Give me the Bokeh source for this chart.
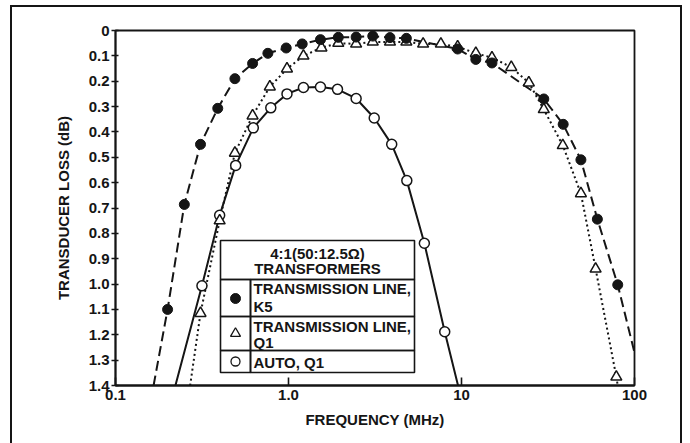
from bokeh.plotting import figure
from bokeh.models import (Range1d, FixedTicker, CustomJSTickFormatter, BoxAnnotation, Label)
from bokeh.embed import file_html
from bokeh.resources import INLINE

# ---------------- data ----------------
# Transmission line, K5 (filled circles)
k5_freq = [0.2, 0.25, 0.31, 0.39, 0.49, 0.62, 0.76, 0.97, 1.2, 1.53, 1.94, 2.46,
           3.07, 3.86, 4.8, 9.5, 12.1, 15.0, 29.9, 38.7, 49.0, 61.0, 80.0]
k5_loss = [1.10, 0.686, 0.449, 0.307, 0.19, 0.13, 0.09, 0.069, 0.053, 0.036, 0.027, 0.026,
           0.022, 0.028, 0.031, 0.073, 0.114, 0.128, 0.27, 0.37, 0.51, 0.744, 1.003]
# where the dashed curve leaves the frame
k5_curve_start = (0.166, 1.4)
k5_curve_end = (100.0, 1.27)

# Transmission line, Q1 (open triangles)
q1_freq = [0.31, 0.40, 0.49, 0.62, 0.78, 0.98, 1.22, 1.55, 1.94, 2.46, 3.07, 3.86, 4.8,
           6.0, 7.6, 9.5, 12.1, 15.0, 19.4, 24.5, 29.9, 38.5, 49.0, 59.6, 78.5]
q1_loss = [1.115, 0.75, 0.483, 0.336, 0.222, 0.151, 0.10, 0.068, 0.05, 0.053, 0.045, 0.045, 0.045,
           0.053, 0.053, 0.064, 0.09, 0.107, 0.145, 0.206, 0.311, 0.453, 0.643, 0.94, 1.366]
q1_curve_start = (0.27, 1.4)
q1_curve_end = (80.0, 1.4)

# Auto, Q1 (open circles)
auto_freq = [0.316, 0.40, 0.495, 0.626, 0.79, 0.98, 1.22, 1.53, 1.92, 2.46, 3.13, 3.95,
             4.83, 6.1, 8.0]
auto_loss = [1.007, 0.729, 0.532, 0.384, 0.305, 0.25, 0.225, 0.223, 0.232, 0.268, 0.345, 0.449,
             0.592, 0.839, 1.188]
auto_curve_start = (0.222, 1.4)
auto_curve_end = (9.55, 1.4)

x_ticks = [0.1, 1.0, 10.0, 100.0]
x_tick_labels = ["0.1", "1.0", "10", "100"]
y_ticks = [0.0, 0.1, 0.2, 0.3, 0.4, 0.5, 0.6, 0.7, 0.8, 0.9, 1.0, 1.1, 1.2, 1.3, 1.4]
y_tick_labels = ["0", "0.1", "0.2", "0.3", "0.4", "0.5", "0.6", "0.7", "0.8", "0.9",
                 "1.0", "1.1", "1.2", "1.3", "1.4"]

legend_title = ["4:1(50:12.5Ω)", "TRANSFORMERS"]
legend_rows = [["TRANSMISSION LINE,", "K5"], ["TRANSMISSION LINE,", "Q1"], ["AUTO, Q1"]]

# ---------------- figure ----------------
FONT = "Liberation Sans"
W, H = 690, 443
FRAME_W, FRAME_H = 519, 355
X0, X1 = 0.1, 100.0
Y0, Y1 = 0.0, 1.4
INK = "#151515"

p = figure(width=W, height=H, x_axis_type="log",
           x_range=Range1d(X0, X1), y_range=Range1d(Y1, Y0),
           output_backend="svg", toolbar_location=None,
           min_border_left=115, min_border_right=W - 115 - FRAME_W,
           min_border_top=30, min_border_bottom=H - 30 - FRAME_H)
p.background_fill_color = "white"
p.border_fill_color = None   # transparent, so the page frame below shows through

# outer frame of the page figure: left, top and right rules (bottom is off-page)
rule = "linear-gradient(#151515, #151515)"
p.styles = {
    "background-color": "white",
    "background-image": ", ".join([rule, rule, rule]),
    "background-position": "10px 5px, 10px 5px, 680px 5px",
    "background-size": "2px 100%, 672px 2px, 2px 100%",
    "background-repeat": "no-repeat",
}

p.outline_line_color = INK
p.outline_line_width = 1.8
p.xgrid.visible = False
p.ygrid.visible = False

for ax in (p.xaxis[0], p.yaxis[0]):
    ax.axis_line_color = INK
    ax.axis_line_width = 1.8
    ax.major_tick_line_color = INK
    ax.major_tick_line_width = 1.6
    ax.minor_tick_line_color = None
    ax.major_label_text_font = FONT
    ax.major_label_text_font_size = "15px"
    ax.major_label_text_font_style = "bold"
    ax.major_label_text_color = INK
    ax.axis_label_text_font = FONT
    ax.axis_label_text_font_size = "15px"
    ax.axis_label_text_font_style = "bold"
    ax.axis_label_text_color = INK

p.xaxis.ticker = FixedTicker(ticks=x_ticks, minor_ticks=[])
p.xaxis.formatter = CustomJSTickFormatter(
    args=dict(tv=x_ticks, labels=x_tick_labels),
    code="const i = tv.findIndex(t => Math.abs(Math.log10(t) - Math.log10(tick)) < 1e-6); return i >= 0 ? labels[i] : '';")
p.xaxis.major_tick_in = 8
p.xaxis.major_tick_out = 0
p.xaxis.major_label_standoff = 4
p.xaxis.axis_label = "FREQUENCY (MHz)"
p.xaxis.axis_label_standoff = 8

p.yaxis.ticker = FixedTicker(ticks=y_ticks, minor_ticks=[])
p.yaxis.formatter = CustomJSTickFormatter(
    args=dict(tv=y_ticks, labels=y_tick_labels),
    code="const i = tv.findIndex(t => Math.abs(t - tick) < 1e-6); return i >= 0 ? labels[i] : '';")
p.yaxis.major_tick_in = 3
p.yaxis.major_tick_out = 4
p.yaxis.major_label_standoff = 2
p.yaxis.axis_label = "TRANSDUCER LOSS (dB)"
p.yaxis.axis_label_standoff = 14

# ---------------- curves ----------------
def curve(start, xs, ys, end):
    return [start[0]] + list(xs) + [end[0]], [start[1]] + list(ys) + [end[1]]

cx, cy = curve(k5_curve_start, k5_freq, k5_loss, k5_curve_end)
p.line(cx, cy, line_color=INK, line_width=2, line_dash="10 5")
cx, cy = curve(q1_curve_start, q1_freq, q1_loss, q1_curve_end)
p.line(cx, cy, line_color=INK, line_width=2, line_dash="2 3")
cx, cy = curve(auto_curve_start, auto_freq, auto_loss, auto_curve_end)
p.line(cx, cy, line_color=INK, line_width=2)

p.scatter(auto_freq, auto_loss, marker="circle", size=10, fill_color="white",
          line_color=INK, line_width=1.5)
p.scatter(q1_freq, q1_loss, marker="triangle", size=11, fill_color="white",
          line_color=INK, line_width=1.5)
p.scatter(k5_freq, k5_loss, marker="circle", size=10, fill_color=INK,
          line_color=INK, line_width=1)

# ---------------- legend table (layout in frame pixels) ----------------
def fx(px):
    return X0 * (X1 / X0) ** (px / FRAME_W)

def fy(py):
    return Y0 + (Y1 - Y0) * py / FRAME_H

L, C, R = 105, 135, 299
T, S1, S2, S3, B = 210, 249, 286, 320, 342

def box(l, r, t, b):
    p.add_layout(BoxAnnotation(left=fx(l), right=fx(r), top=fy(t), bottom=fy(b),
                               fill_color=None, line_color=INK, line_width=1.6,
                               line_alpha=1.0))

box(L, R, T, S1)
for (t, b) in [(S1, S2), (S2, S3), (S3, B)]:
    box(L, C, t, b)
    box(C, R, t, b)

for txt, py in zip(legend_title, [223, 238]):
    p.add_layout(Label(x=fx((L + R) / 2), y=fy(py), text=txt, text_align="center",
                       text_baseline="middle", text_font=FONT, text_font_size="15px",
                       text_font_style="bold", text_color=INK))

row_text_y = [[258, 276], [296, 312], [332]]
for lines, ys in zip(legend_rows, row_text_y):
    for txt, py in zip(lines, ys):
        p.add_layout(Label(x=fx(C + 3), y=fy(py), text=txt, text_align="left",
                           text_baseline="middle", text_font=FONT, text_font_size="15px",
                           text_font_style="bold", text_color=INK))

mx = fx((L + C) / 2)
p.scatter([mx], [fy(268)], marker="circle", size=10, fill_color=INK, line_color=INK)
p.scatter([mx], [fy(303)], marker="triangle", size=10, fill_color="white",
          line_color=INK, line_width=1.3)
p.scatter([mx], [fy(331)], marker="circle", size=9, fill_color="white",
          line_color=INK, line_width=1.3)

open("out.html", "w").write(file_html(p, INLINE))
